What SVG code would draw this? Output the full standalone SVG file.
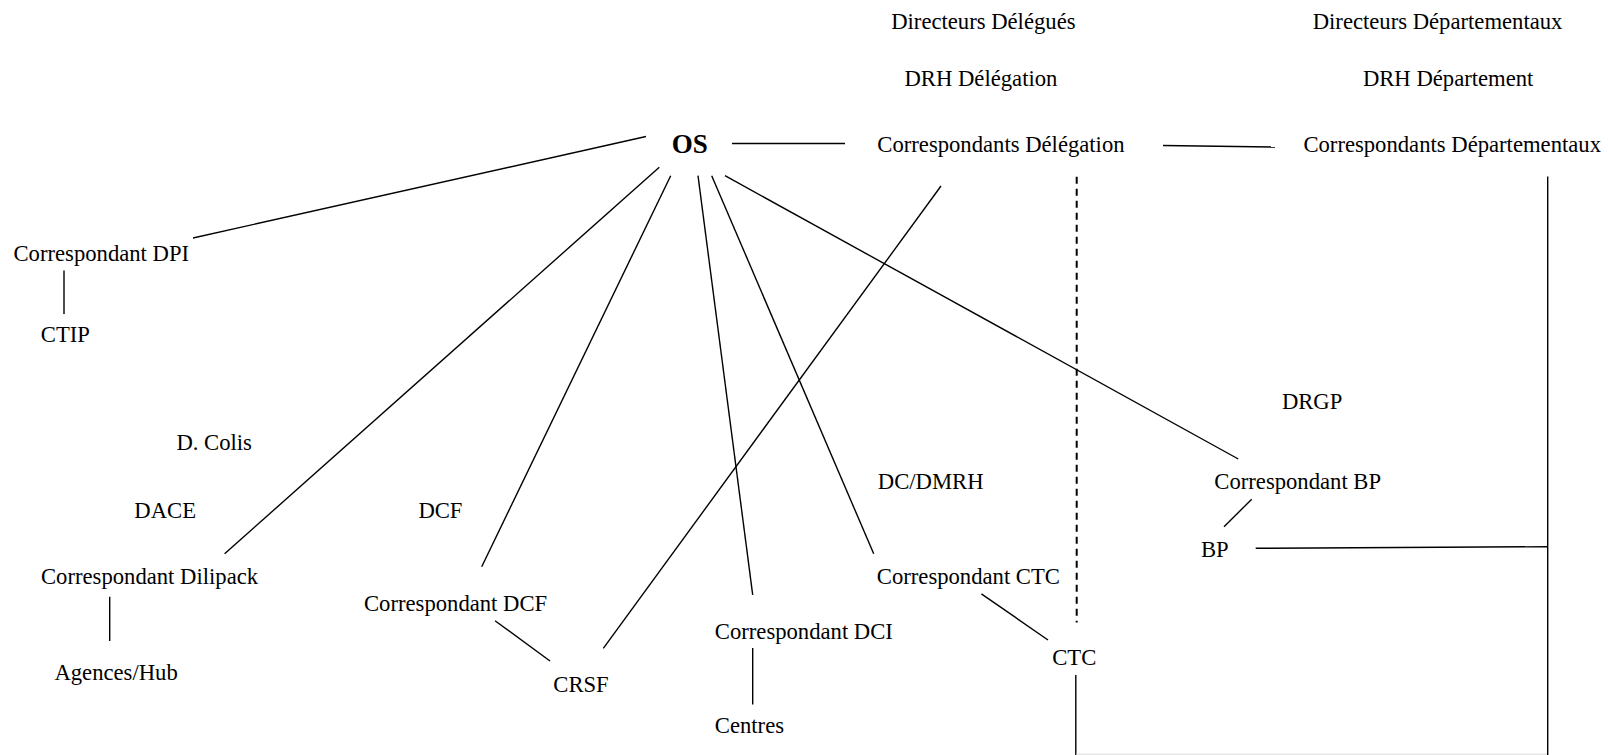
<svg xmlns="http://www.w3.org/2000/svg" width="1608" height="755" viewBox="0 0 1608 755">
<style>
text{font-family:"Liberation Serif","Times New Roman",serif;font-size:22.67px;fill:#000}
.b{font-weight:bold;font-size:27px}
line{stroke:#000;stroke-width:1.4;fill:none}
.d{stroke-width:2;stroke-dasharray:7 5}
.g{stroke:#e6e6e6;stroke-width:1.5}
</style>
<rect width="1608" height="755" fill="#fff"/>
<g id="connectors">
<line x1="646" y1="136.5" x2="193" y2="238"/>
<line x1="732" y1="143.5" x2="845" y2="143.5"/>
<line x1="1163" y1="145.5" x2="1275" y2="147"/>
<line x1="64" y1="270.5" x2="64" y2="314"/>
<line x1="659.3" y1="167.3" x2="224.6" y2="553.8"/>
<line x1="670.7" y1="175.7" x2="481.7" y2="566.7"/>
<line x1="698" y1="175.7" x2="752.7" y2="594.8"/>
<line x1="711.7" y1="175.7" x2="873.7" y2="553.8"/>
<line x1="725" y1="175.7" x2="1238.3" y2="459"/>
<line x1="941" y1="186" x2="603.3" y2="648.3"/>
<line class="d" x1="1076.7" y1="176.7" x2="1076.7" y2="622.5"/>
<line x1="1547.7" y1="176.4" x2="1547.7" y2="755"/>
<line x1="1255.7" y1="548.3" x2="1547.7" y2="546.7"/>
<line x1="109.7" y1="596.8" x2="109.7" y2="641"/>
<line x1="495" y1="620.7" x2="550" y2="661"/>
<line x1="752.7" y1="648" x2="752.7" y2="704.5"/>
<line x1="981.4" y1="593.8" x2="1048" y2="640"/>
<line x1="1251.7" y1="499.3" x2="1224" y2="526.7"/>
<line x1="1075.8" y1="675" x2="1075.8" y2="755"/>
<line class="g" x1="1076.5" y1="754.2" x2="1547" y2="754.2"/>
</g>
<g id="dir-delegues"><text x="891.2" y="28.5">Directeurs Délégués</text></g>
<g id="dir-departementaux"><text x="1312.7" y="28.5">Directeurs Départementaux</text></g>
<g id="drh-delegation"><text x="904.5" y="86">DRH Délégation</text></g>
<g id="drh-departement"><text x="1362.9" y="86">DRH Département</text></g>
<g id="os"><text class="b" x="671.7" y="152.5">OS</text></g>
<g id="corr-delegation"><text x="877.3" y="151.5">Correspondants Délégation</text></g>
<g id="corr-departementaux"><text x="1303.4" y="152">Correspondants Départementaux</text></g>
<g id="corr-dpi"><text x="13.5" y="261">Correspondant DPI</text></g>
<g id="ctip"><text x="40.8" y="341.5">CTIP</text></g>
<g id="dcolis"><text x="176.4" y="450">D. Colis</text></g>
<g id="dace"><text x="134.3" y="517.7">DACE</text></g>
<g id="dcf"><text x="418.4" y="517.7">DCF</text></g>
<g id="dcdmrh"><text x="877.8" y="489">DC/DMRH</text></g>
<g id="drgp"><text x="1281.9" y="409">DRGP</text></g>
<g id="corr-bp"><text x="1214.3" y="489.3">Correspondant BP</text></g>
<g id="bp"><text x="1201" y="556.7">BP</text></g>
<g id="corr-dilipack"><text x="41" y="584.3">Correspondant Dilipack</text></g>
<g id="corr-dcf"><text x="364" y="611">Correspondant DCF</text></g>
<g id="corr-dci"><text x="714.8" y="638.7">Correspondant DCI</text></g>
<g id="corr-ctc"><text x="876.8" y="584.3">Correspondant CTC</text></g>
<g id="ctc"><text x="1052.2" y="665.3">CTC</text></g>
<g id="agences"><text x="54.4" y="679.7">Agences/Hub</text></g>
<g id="crsf"><text x="553.3" y="691.5">CRSF</text></g>
<g id="centres"><text x="714.8" y="733">Centres</text></g>
</svg>
